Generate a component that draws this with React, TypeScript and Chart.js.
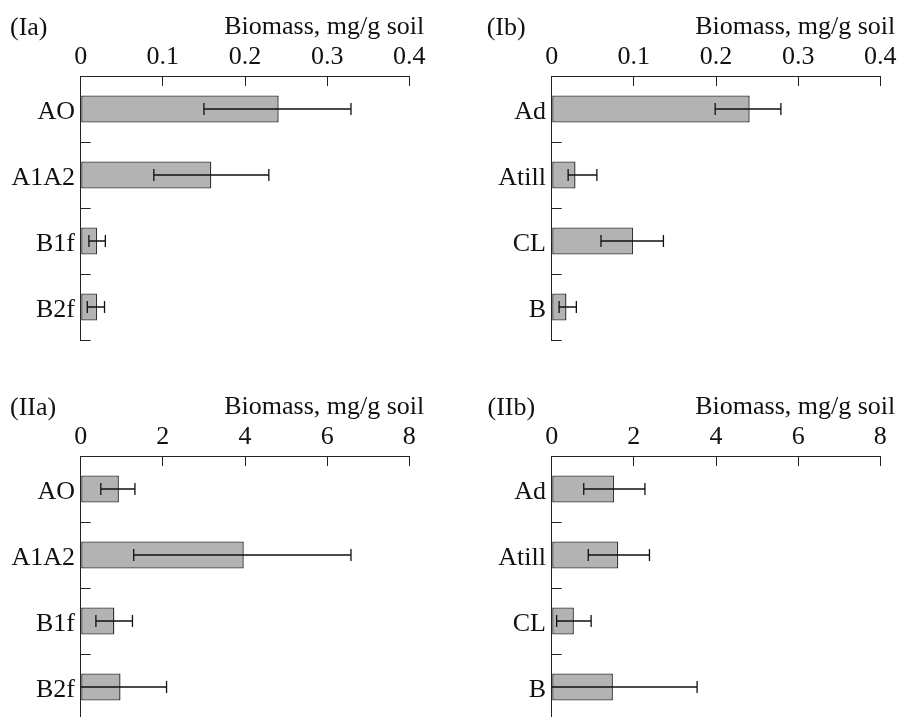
import React, { useEffect, useRef } from "react";
import { Chart, registerables } from "chart.js";

Chart.register(...registerables);

// ---- Data ----
const catsA = ["AO", "A1A2", "B1f", "B2f"];
const catsB = ["Ad", "Atill", "CL", "B"];

const valIa = [0.241, 0.159, 0.02, 0.02];
const lowIa = [0.15, 0.089, 0.01, 0.008];
const highIa = [0.329, 0.229, 0.03, 0.029];

const valIb = [0.241, 0.029, 0.099, 0.018];
const lowIb = [0.199, 0.02, 0.06, 0.009];
const highIb = [0.279, 0.055, 0.136, 0.03];

const valIIa = [0.93, 3.97, 0.82, 0.97];
const lowIIa = [0.49, 1.29, 0.37, -0.16];
const highIIa = [1.32, 6.58, 1.26, 2.09];

const valIIb = [1.52, 1.62, 0.54, 1.49];
const lowIIb = [0.78, 0.89, 0.12, -0.56];
const highIIb = [2.27, 2.38, 0.96, 3.54];

const ticksTop = [0, 0.1, 0.2, 0.3, 0.4];
const ticksBottom = [0, 2, 4, 6, 8];

const axisTitle = "Biomass, mg/g soil";

const FONT = "Liberation Serif";
const FONT_SIZE = 26;
const INK = "#111111";

type Panel = {
  tag: string;
  tagX: number;
  cats: string[];
  vals: number[];
  low: number[];
  high: number[];
  tickVals: number[];
  left: number;
  top: number;
  yAxisWidth: number;
  areaRight: number;
};

const panels: Panel[] = [
  { tag: "(Ia)", tagX: 10, cats: catsA, vals: valIa, low: lowIa, high: highIa, tickVals: ticksTop, left: 0, top: 0, yAxisWidth: 80.7, areaRight: 409.3 },
  { tag: "(Ib)", tagX: 36.7, cats: catsB, vals: valIb, low: lowIb, high: highIb, tickVals: ticksTop, left: 450, top: 0, yAxisWidth: 101.7, areaRight: 430.3 },
  { tag: "(IIa)", tagX: 10, cats: catsA, vals: valIIa, low: lowIIa, high: highIIa, tickVals: ticksBottom, left: 0, top: 380, yAxisWidth: 80.7, areaRight: 409.3 },
  { tag: "(IIb)", tagX: 37.5, cats: catsB, vals: valIIb, low: lowIIb, high: highIIb, tickVals: ticksBottom, left: 450, top: 380, yAxisWidth: 101.7, areaRight: 430.3 },
];

const CANVAS_W = 449;
const CANVAS_H = 360;

function PanelChart({ p }: { p: Panel }) {
  const ref = useRef<HTMLCanvasElement | null>(null);
  useEffect(() => {
    if (!ref.current) return;
    const minV = p.tickVals[0];
    const maxV = p.tickVals[p.tickVals.length - 1];
    const step = p.tickVals[1] - p.tickVals[0];

    const errorBars = {
      id: "errorBars",
      afterDatasetsDraw(chart: any) {
        const ctx = chart.ctx;
        const xs = chart.scales.x;
        const meta = chart.getDatasetMeta(0);
        ctx.save();
        ctx.strokeStyle = INK;
        ctx.lineWidth = 1.3;
        meta.data.forEach((el: any, i: number) => {
          const y = el.y;
          const lo = p.low[i];
          const hi = p.high[i];
          const xl = xs.getPixelForValue(Math.max(lo, minV));
          const xh = xs.getPixelForValue(hi);
          const cap = 6;
          ctx.beginPath();
          ctx.moveTo(xl, y);
          ctx.lineTo(xh, y);
          ctx.moveTo(xh, y - cap);
          ctx.lineTo(xh, y + cap);
          if (lo > minV) {
            ctx.moveTo(xl, y - cap);
            ctx.lineTo(xl, y + cap);
          }
          ctx.stroke();
        });
        ctx.restore();
      },
    };

    const titles = {
      id: "titles",
      afterDraw(chart: any) {
        const ctx = chart.ctx;
        const area = chart.chartArea;
        ctx.save();
        ctx.fillStyle = INK;
        ctx.font = `${FONT_SIZE}px "${FONT}"`;
        ctx.textBaseline = "alphabetic";
        ctx.textAlign = "right";
        ctx.fillText(axisTitle, area.right + 15, area.top - 41.7);
        ctx.textAlign = "left";
        ctx.fillText(p.tag, p.tagX, area.top - 41);
        ctx.restore();
      },
    };

    const chart = new Chart(ref.current, {
      type: "bar",
      data: {
        labels: p.cats,
        datasets: [
          {
            data: p.vals,
            backgroundColor: "#b3b3b3",
            borderColor: "#333333",
            borderWidth: 1.4,
            borderSkipped: false,
            barPercentage: 0.41,
            categoryPercentage: 1,
          },
        ],
      },
      options: {
        indexAxis: "y",
        responsive: false,
        animation: false,
        devicePixelRatio: 1,
        layout: { padding: { left: 0, top: 0, right: CANVAS_W - p.areaRight, bottom: CANVAS_H - 340 } },
        plugins: { legend: { display: false }, tooltip: { enabled: false }, title: { display: false } },
        scales: {
          x: {
            type: "linear",
            position: "top",
            min: minV,
            max: maxV,
            ticks: {
              stepSize: step,
              padding: 13.7,
              color: INK,
              font: { family: FONT, size: FONT_SIZE },
              maxRotation: 0,
              autoSkip: false,
            },
            grid: {
              drawOnChartArea: false,
              drawTicks: true,
              tickLength: -10,
              color: "#222222",
              lineWidth: 1,
            },
            border: { display: true, color: "#222222", width: 1 },
            afterFit(scale: any) {
              scale.height = 76;
              scale.paddingLeft = 0;
              scale.paddingRight = 0;
            },
          },
          y: {
            type: "category",
            position: "left",
            offset: true,
            ticks: {
              padding: 15.7,
              labelOffset: 3,
              color: INK,
              font: { family: FONT, size: FONT_SIZE },
              autoSkip: false,
            },
            grid: {
              offset: true,
              drawOnChartArea: false,
              drawTicks: true,
              tickLength: -10,
              color: "#222222",
              lineWidth: 1,
            },
            border: { display: true, color: "#222222", width: 1 },
            afterFit(scale: any) {
              scale.width = p.yAxisWidth;
              scale.paddingTop = 0;
              scale.paddingBottom = 0;
            },
          },
        },
      },
      plugins: [errorBars, titles],
    } as any);
    return () => chart.destroy();
  }, [p]);

  return (
    <div style={{ position: "absolute", left: p.left, top: p.top, width: CANVAS_W, height: CANVAS_H }}>
      <canvas ref={ref} width={CANVAS_W} height={CANVAS_H} style={{ display: "block" }} />
    </div>
  );
}

export default function App() {
  return (
    <div
      style={{
        position: "absolute",
        left: 0,
        top: 0,
        width: 899,
        height: 717,
        overflow: "hidden",
        background: "#ffffff",
      }}
    >
      {panels.map((p) => (
        <PanelChart key={p.tag} p={p} />
      ))}
    </div>
  );
}
